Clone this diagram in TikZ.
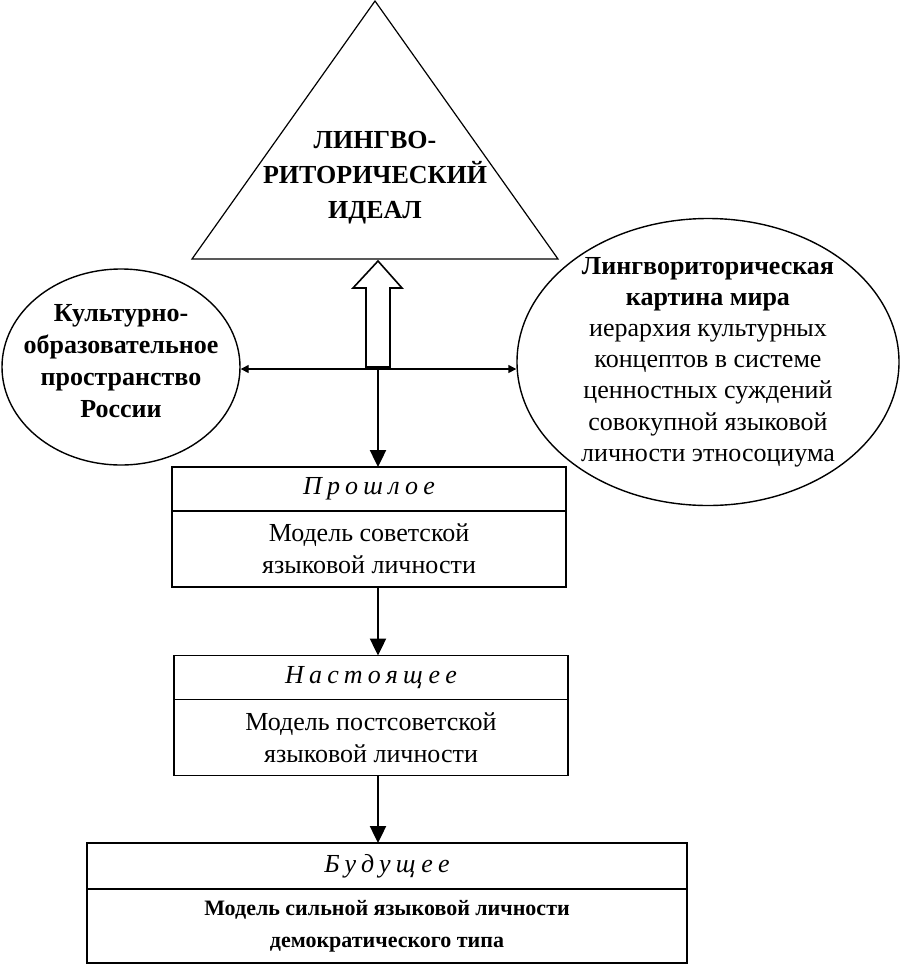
\documentclass[tikz,border=0pt]{standalone}
\usepackage{fontspec}
\setmainfont{Liberation Serif}
\usetikzlibrary{positioning,shapes.geometric,arrows.meta}

\tikzset{
  oval/.style={draw, ellipse, line width=0.7pt, inner sep=0pt},
  plain/.style={align=center, inner sep=0pt, font=\fontsize{13}{16}\selectfont},
  headbox/.style={draw, line width=0.9pt, inner sep=0pt, outer sep=0pt, minimum height=22pt,
    font=\fontsize{13}{16}\selectfont\itshape\addfontfeature{LetterSpace=20}},
  bodybox/.style={draw, line width=0.9pt, inner sep=0pt, outer sep=0pt, minimum height=38pt,
    align=center, font=\fontsize{13}{16}\selectfont},
  flow/.style={line width=1.2pt, -{Triangle[length=8.5pt,width=8pt]}},
  link/.style={line width=0.7pt, {Triangle[length=4pt,width=4pt]}-{Triangle[length=4pt,width=4pt]}}
}

\begin{document}
\begin{tikzpicture}[x=0.5pt,y=-0.5pt]
      \useasboundingbox (0,0) rectangle (900,965);
      % triangle of the ideal
      \coordinate (apex) at (375,1);
      \coordinate (baseL) at (192,259);
      \coordinate (baseR) at (558,259);
      \draw[line width=0.6pt] (baseL) -- (apex) -- (baseR) -- cycle;
      \node[plain, font=\fontsize{13}{17.5}\selectfont\bfseries] (ideal) at (375,178)
        {ЛИНГВО-\\РИТОРИЧЕСКИЙ\\ИДЕАЛ};
      % ellipses
      \node[oval, minimum width=119pt, minimum height=98pt] (culture) at (121,367) {};
      \node[plain, font=\fontsize{13}{16}\selectfont\bfseries] (culturetext) at (121,361)
        {Культурно-\\образовательное\\пространство\\России};
      \node[oval, minimum width=191pt, minimum height=143.5pt] (world) at (708,362) {};
      \node[plain, font=\fontsize{13}{15.6}\selectfont] (worldtext) at (708,362)
        {\textbf{Лингвориторическая}\\\textbf{картина мира}\\иерархия культурных\\концептов в системе\\ценностных суждений\\совокупной языковой\\личности этносоциума};
      % hollow arrow to the ideal
      \coordinate (hub) at (378,369);
      \draw[line width=0.8pt, fill=white] (366,367) -- (366,288) -- (353,288) -- (378,261)
        -- (402,288) -- (390,288) -- (390,367) -- cycle;
      % time boxes
      \node[headbox, minimum width=197pt] (past) at (369,489) {Прошлое};
      \node[bodybox, minimum width=197pt, below=0pt of past] (pastbody)
        {Модель советской\\языковой личности};
      \node[headbox, minimum width=197pt] (present) at (371,677.5) {Настоящее};
      \node[bodybox, minimum width=197pt, below=0pt of present] (presentbody)
        {Модель постсоветской\\языковой личности};
      \node[headbox, minimum width=300pt, minimum height=23pt] (future) at (387,866) {Будущее};
      \node[bodybox, minimum width=300pt, minimum height=37pt, below=0pt of future,
        font=\fontsize{11}{16}\selectfont\bfseries] (futurebody)
        {Модель сильной языковой личности\\демократического типа};
      \begin{scope}
        \draw[link] (culture.east |- hub) -- (world.west |- hub);
        \draw[flow] (hub) -- (hub |- past.north);
        \draw[flow] (hub |- pastbody.south) -- (hub |- present.north);
        \draw[flow] (hub |- presentbody.south) -- (hub |- future.north);
      \end{scope}
    \end{tikzpicture}
\end{document}
